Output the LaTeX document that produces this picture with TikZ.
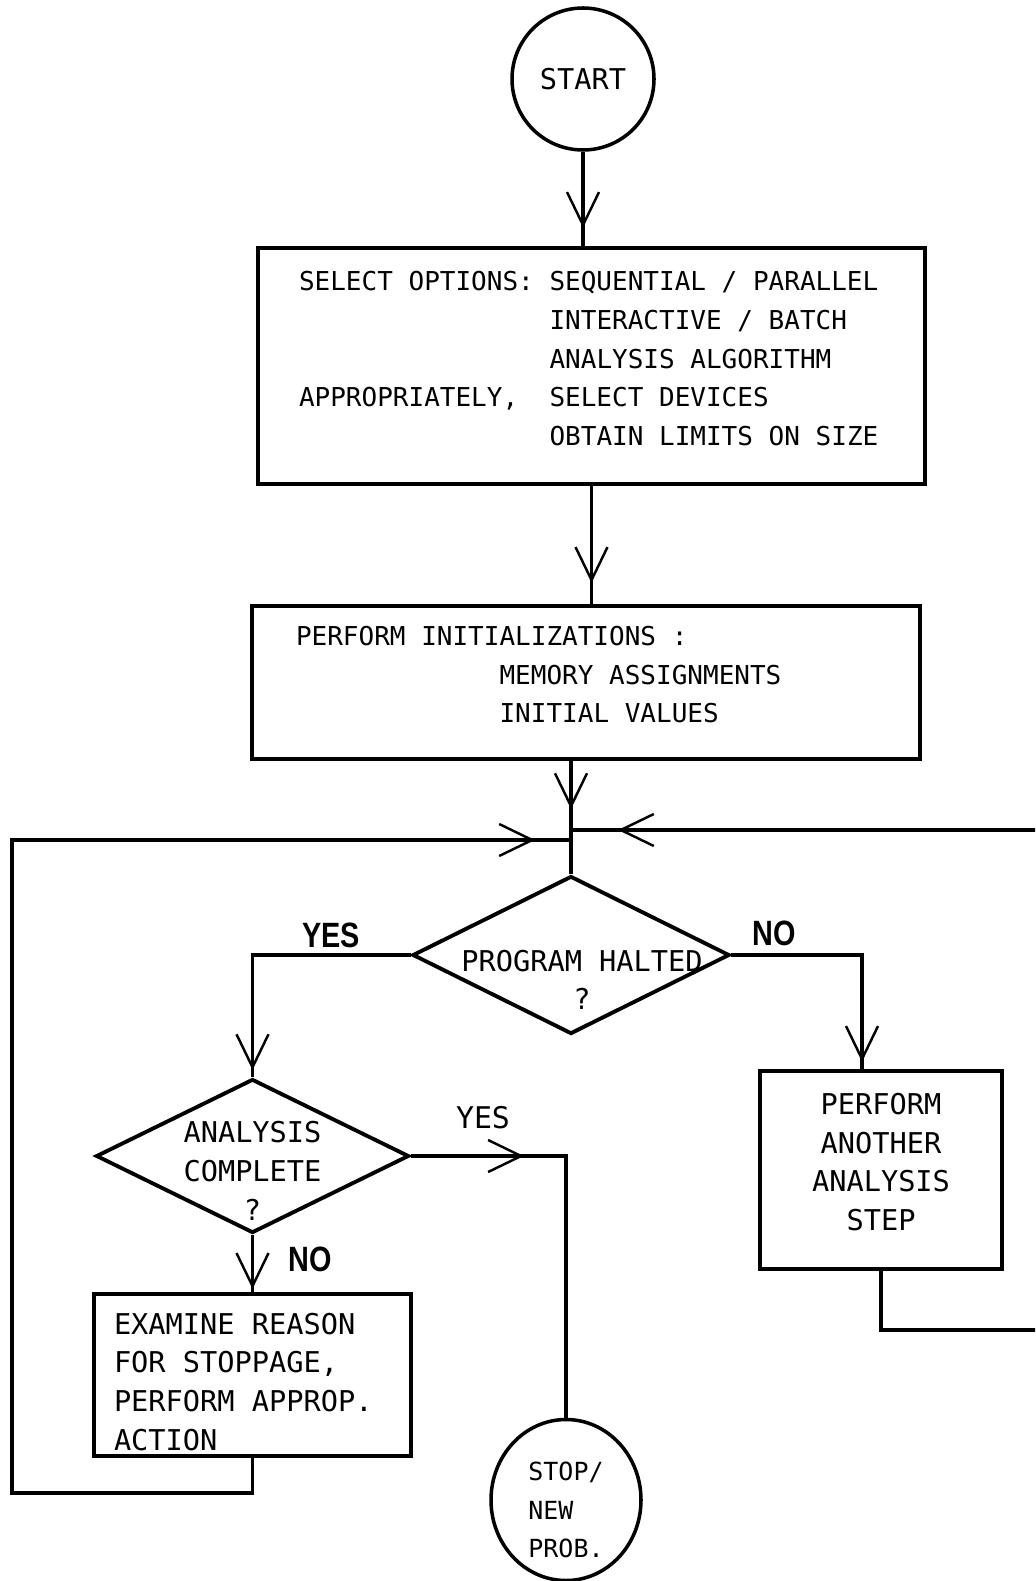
\documentclass[tikz,border=0pt]{standalone}
\usepackage{fontspec}
\newfontfamily\plotter{DejaVu Sans Mono}
\newfontfamily\labelfont{Liberation Sans}
\usetikzlibrary{shapes.geometric,arrows.meta,decorations.markings}
\newcommand\ans[1]{\scalebox{0.82}[1]{#1}}
\newcommand\monospace{\frenchspacing\spaceskip 0.602em\xspaceskip 0.602em\relax}
\newcommand\plotfont[1]{\plotter\fontsize{#1}{22}\selectfont\monospace}

\begin{document}
\begin{tikzpicture}[line width=2pt,
		box/.style={draw,rectangle,line width=2.4pt,inner sep=0pt},
		decision/.style={draw,diamond,line width=2.2pt,inner sep=0pt},
		terminal/.style={draw,line width=2pt,inner sep=0pt},
		small text/.style={font=\plotfont{14.8}},
		big text/.style={font=\plotfont{16.3}},
		answer/.style={font=\labelfont\bfseries\fontsize{20}{24}\selectfont},
		barb at/.style={postaction={decorate,decoration={markings,
			mark=at position #1 with {\arrow{Straight Barb[length=6.6mm,width=6.4mm,line width=1.4pt]}}}}}]

	\useasboundingbox (0,0) rectangle (20.7,-31.62);
	\clip (0,0) rectangle (20.7,-31.62);

	\node [terminal, circle, minimum size=2.84cm, big text] (term-start) at (11.66,-1.58) {START};
	\node [box, minimum width=13.34cm, minimum height=4.72cm, text width=11.7cm, align=left, small text] (box-opts) at (11.83,-7.32)
		{\monospace SELECT OPTIONS: SEQUENTIAL / PARALLEL\\
		\hphantom{SELECT OPTIONS: }INTERACTIVE / BATCH\\
		\hphantom{SELECT OPTIONS: }ANALYSIS ALGORITHM\\
		APPROPRIATELY, \hphantom{0}SELECT DEVICES\\
		\hphantom{SELECT OPTIONS: }OBTAIN LIMITS ON SIZE\rule[-0.3cm]{0pt}{0pt}};
	\node [box, minimum width=13.36cm, minimum height=3.06cm, text width=11.6cm, align=left, small text] (box-init) at (11.72,-13.65)
		{\monospace PERFORM INITIALIZATIONS :\\
		\hphantom{PERFORM INITI}MEMORY ASSIGNMENTS\\
		\hphantom{PERFORM INITI}INITIAL VALUES\rule[-0.32cm]{0pt}{0pt}};

	\node [decision, minimum width=6.34cm, minimum height=3.16cm,
		label={[big text, align=center, xshift=0.22cm, yshift=-0.5cm]center:PROGRAM HALTED\\?}] (dec-halt) at (11.42,-19.1) {};
	\node [decision, minimum width=6.26cm, minimum height=3.08cm,
		label={[big text, align=center, yshift=-0.3cm]center:ANALYSIS\\COMPLETE\\?}] (dec-done) at (5.05,-23.12) {};

	\node [box, minimum width=6.34cm, minimum height=3.24cm, text width=5.54cm, align=left, big text] (box-examine) at (5.05,-27.5)
		{\monospace\rule{0pt}{0.7cm}EXAMINE REASON\\FOR STOPPAGE,\\PERFORM APPROP.\\ACTION};
	\node [box, minimum width=4.84cm, minimum height=3.96cm, align=center, big text] (box-another) at (17.62,-23.4)
		{PERFORM\\ANOTHER\\ANALYSIS\\STEP\rule[-0.32cm]{0pt}{0pt}};
	\node [terminal, ellipse, minimum width=3.0cm, minimum height=3.22cm,
		label={[align=left, yshift=-0.2cm, font=\plotfont{14.2}]center:STOP/\\NEW\\PROB.}] (term-stop) at (11.32,-30.0) {};

	% answers
	\node [answer] (yes-halt) at (6.62,-18.7) {\ans{YES}};
	\node [answer] (no-halt) at (15.48,-18.66) {\ans{NO}};
	\node [font=\plotfont{17}] (yes-done) at (9.66,-22.36) {YES};
	\node [answer] (no-done) at (6.2,-25.18) {\ans{NO}};

	\coordinate (merge-l) at (11.42,-16.8);
	\coordinate (merge-r) at (11.42,-16.6);
	\coordinate (loop-sw) at (0.24,-29.86);
	\coordinate (loop-se) at (21.5,-26.6);

	\draw [barb at=-0.36cm] (term-start) -- (term-start |- box-opts.north);
	\draw [barb at=-0.42cm] (box-opts.south) -- (box-opts.south |- box-init.north);
	\draw [barb at=-1.3cm] (dec-halt.north |- box-init.south) -- (dec-halt.north);
	\draw [barb at=-0.14cm] (dec-halt.west) -| (dec-done.north);
	\draw [barb at=-0.14cm] (dec-halt.east) -| ([xshift=-3.8mm]box-another.north);
	\draw [barb at=2.26cm] (dec-done.east) -| (term-stop.north);
	\draw [barb at=-0.06cm] (dec-done.south) -- (box-examine.north);
	\draw [barb at=-0.72cm] (box-examine.south) |- (loop-sw) |- (merge-l);
	\draw [barb at=-0.94cm] (box-another.south) |- (loop-se) |- (merge-r);
\end{tikzpicture}
\end{document}
